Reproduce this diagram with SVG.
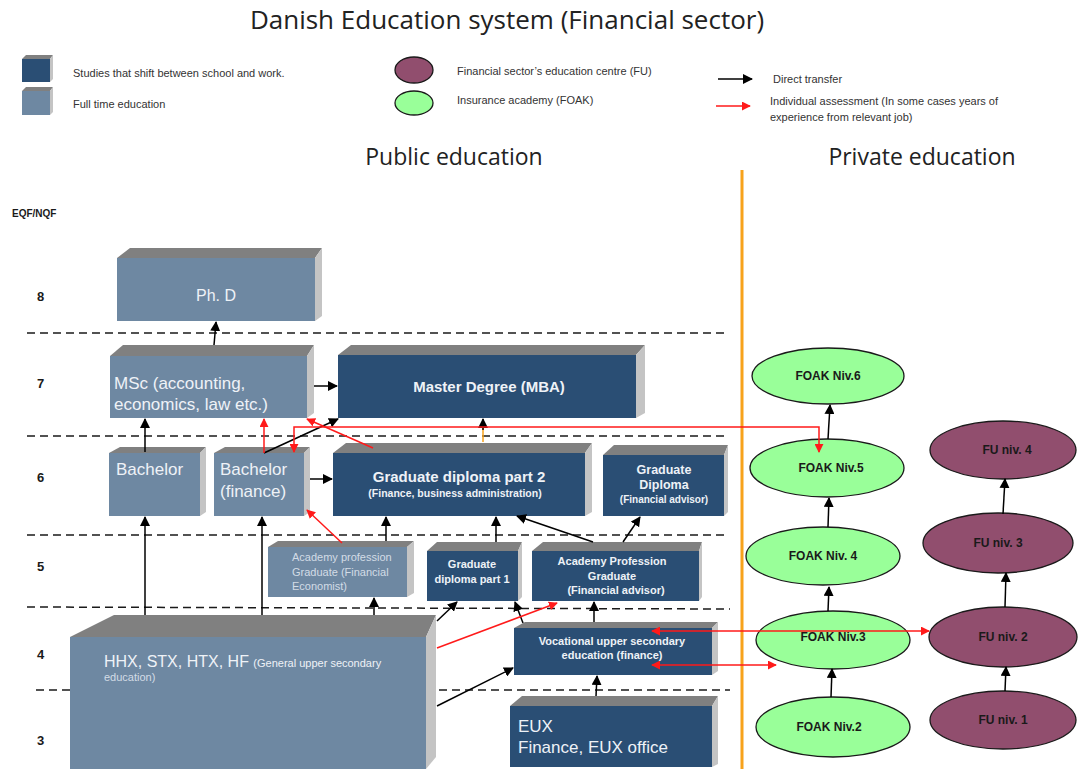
<svg xmlns="http://www.w3.org/2000/svg" width="1078" height="769" viewBox="0 0 1078 769">
<defs>
<marker id="ab" viewBox="0 0 10 10" refX="9" refY="5" markerWidth="10" markerHeight="10" markerUnits="userSpaceOnUse" orient="auto-start-reverse"><path d="M0,0 L10,5 L0,10 z" fill="#000"/></marker>
<marker id="ar" viewBox="0 0 10 10" refX="9" refY="5" markerWidth="9" markerHeight="9" markerUnits="userSpaceOnUse" orient="auto-start-reverse"><path d="M0,0 L10,5 L0,10 z" fill="#FF1A1A"/></marker>
</defs>
<style>
text{font-family:"Liberation Sans",Arial,sans-serif}
.ttl{font-family:"Open Sans","Liberation Sans",sans-serif;fill:#222}
.leg{font-size:11px;fill:#333}
.lvl{font-size:13px;font-weight:bold;fill:#1a1a1a}
.lt{fill:#6E88A2}
.dk{fill:#2A4E74}
.top{fill:#808080}
.side{fill:#C4C4C4}
.wt{fill:#EEF2F7}
.wtb{fill:#EEF2F7;font-weight:bold}
.pale{fill:#D3DCE6}
.dash{stroke:#1a1a1a;stroke-width:1.5;stroke-dasharray:8 5;fill:none}
.bk{stroke:#000;stroke-width:1.5;fill:none;marker-end:url(#ab)}
.rd{stroke:#FF1A1A;stroke-width:1.5;fill:none;marker-end:url(#ar)}
.rd2{stroke:#FF1A1A;stroke-width:1.5;fill:none;marker-end:url(#ar);marker-start:url(#ar)}
.gr{fill:#99FF99;stroke:#1a1a1a;stroke-width:1.3}
.pu{fill:#914E6E;stroke:#1a1a1a;stroke-width:1.3}
.et{font-size:12px;font-weight:bold;fill:#1a1a1a;text-anchor:middle}
</style>
<rect width="1078" height="769" fill="#fff"/>
<text class="ttl" x="507" y="29" font-size="26" text-anchor="middle">Danish Education system (Financial sector)</text>
<g id="legend">
<polygon class="top" points="22,59 26,55 53,55 50,59"/><polygon class="side" points="50,59 53,55 53,79 50,82"/><rect class="dk" x="22" y="59" width="28" height="23"/>
<text class="leg" x="73" y="77">Studies that shift between school and work.</text>
<polygon class="top" points="22,91 26,87 53,87 50,91"/><polygon class="side" points="50,91 53,87 53,112 50,115"/><rect class="lt" x="22" y="91" width="28" height="24"/>
<text class="leg" x="73" y="108">Full time education</text>
<ellipse class="pu" cx="414" cy="70" rx="19" ry="13"/>
<text class="leg" x="457" y="75">Financial sector’s education centre (FU)</text>
<ellipse class="gr" cx="414" cy="103" rx="19" ry="12"/>
<text class="leg" x="457" y="104">Insurance academy (FOAK)</text>
<line class="bk" x1="718" y1="79" x2="752" y2="79"/>
<text class="leg" x="773" y="83">Direct transfer</text>
<line class="rd" x1="716" y1="106" x2="750" y2="106"/>
<text class="leg" x="770" y="105">Individual assessment (In some cases years of</text>
<text class="leg" x="770" y="121">experience from relevant job)</text>
</g>
<text class="ttl" x="454" y="165" font-size="23" text-anchor="middle">Public education</text>
<text class="ttl" x="922" y="165" font-size="23" text-anchor="middle">Private education</text>
<line x1="742" y1="170" x2="742" y2="769" stroke="#F7A21B" stroke-width="3"/>
<text x="12" y="217" font-size="10" font-weight="bold" fill="#1a1a1a">EQF/NQF</text>
<g id="levels">
<text class="lvl" x="37" y="301">8</text>
<text class="lvl" x="37" y="388">7</text>
<text class="lvl" x="37" y="482">6</text>
<text class="lvl" x="37" y="571">5</text>
<text class="lvl" x="37" y="659">4</text>
<text class="lvl" x="37" y="745">3</text>
</g>
<g id="gridlines">
<line class="dash" x1="27" y1="333" x2="726" y2="333"/>
<line class="dash" x1="27" y1="436" x2="726" y2="436"/>
<line class="dash" x1="27" y1="535" x2="726" y2="535"/>
<line class="dash" x1="27" y1="607" x2="730" y2="609"/>
<line class="dash" x1="36" y1="690" x2="730" y2="690"/>
</g>
<g id="phd"><polygon class="top" points="117,258 130,248 322,248 315,258"/><polygon class="side" points="315,258 322,248 322,316 315,321"/><rect class="lt" x="117" y="258" width="198" height="63"/><text class="wt" x="216" y="301" font-size="16" text-anchor="middle">Ph. D</text></g>
<g id="msc"><polygon class="top" points="110,356 123,345 314,345 307,356"/><polygon class="side" points="307,356 314,345 314,413 307,418"/><rect class="lt" x="110" y="356" width="197" height="62"/><text class="wt" x="114" y="389" font-size="17">MSc (accounting,</text><text class="wt" x="114" y="410" font-size="17">economics, law etc.)</text></g>
<g id="mba"><polygon class="top" points="338,355 351,345 645,345 636,355"/><polygon class="side" points="636,355 645,345 645,413 636,418"/><rect class="dk" x="338" y="355" width="298" height="63"/><text class="wtb" x="489" y="392" font-size="15" text-anchor="middle">Master Degree (MBA)</text></g>
<g id="bachelor"><polygon class="top" points="109,453 120,447 206,447 200,453"/><polygon class="side" points="200,453 206,447 206,512 200,516"/><rect class="lt" x="109" y="453" width="91" height="63"/><text class="wt" x="116" y="475" font-size="17">Bachelor</text></g>
<g id="bachelor-fin"><polygon class="top" points="214,453 225,447 310,447 304,453"/><polygon class="side" points="304,453 310,447 310,512 304,516"/><rect class="lt" x="214" y="453" width="90" height="63"/><text class="wt" x="220" y="475" font-size="17">Bachelor</text><text class="wt" x="220" y="497" font-size="17">(finance)</text></g>
<g id="grad-dip-2"><polygon class="top" points="333,453 346,443 592,443 585,453"/><polygon class="side" points="585,453 592,443 592,512 585,516"/><rect class="dk" x="333" y="453" width="252" height="63"/><text class="wtb" x="459" y="482" font-size="15" text-anchor="middle">Graduate diploma part 2</text><text class="wtb" x="455" y="497" font-size="10.5" text-anchor="middle">(Finance, business administration)</text></g>
<g id="grad-diploma-fa"><polygon class="top" points="603,455 614,445 728,445 724,455"/><polygon class="side" points="724,455 728,445 728,512 724,516"/><rect class="dk" x="603" y="455" width="121" height="61"/><text class="wtb" x="664" y="474" font-size="12.5" text-anchor="middle">Graduate</text><text class="wtb" x="664" y="489" font-size="12.5" text-anchor="middle">Diploma</text><text class="wtb" x="664" y="503" font-size="10" text-anchor="middle">(Financial advisor)</text></g>
<g id="ap-fe"><polygon class="top" points="268,547 278,541 414,541 407,547"/><polygon class="side" points="407,547 414,541 414,593 407,597"/><rect class="lt" x="268" y="547" width="139" height="50"/><text class="pale" x="292" y="561" font-size="11">Academy profession</text><text class="pale" x="292" y="576" font-size="11">Graduate (Financial</text><text class="pale" x="292" y="590" font-size="11">Economist)</text></g>
<g id="grad-dip-1"><polygon class="top" points="427,551 437,542 522,542 518,551"/><polygon class="side" points="518,551 522,542 522,597 518,601"/><rect class="dk" x="427" y="551" width="91" height="50"/><text class="wtb" x="472" y="568" font-size="11" text-anchor="middle">Graduate</text><text class="wtb" x="472" y="583" font-size="11" text-anchor="middle">diploma part 1</text></g>
<g id="ap-fa"><polygon class="top" points="532,551 543,542 702,542 699,551"/><polygon class="side" points="699,551 702,542 702,597 699,601"/><rect class="dk" x="532" y="551" width="167" height="50"/><text class="wtb" x="612" y="565" font-size="11" text-anchor="middle">Academy Profession</text><text class="wtb" x="612" y="580" font-size="11" text-anchor="middle">Graduate</text><text class="wtb" x="616" y="594" font-size="11" text-anchor="middle">(Financial advisor)</text></g>
<g id="vocational"><polygon class="top" points="514,628 525,622 718,622 712,628"/><polygon class="side" points="712,628 718,622 718,671 712,675"/><rect class="dk" x="514" y="628" width="198" height="47"/><text class="wtb" x="612" y="645" font-size="11" text-anchor="middle">Vocational upper secondary</text><text class="wtb" x="612" y="659" font-size="11" text-anchor="middle">education (finance)</text></g>
<g id="eux"><polygon class="top" points="510,706 522,696 718,696 712,706"/><polygon class="side" points="712,706 718,696 718,764 712,767"/><rect class="dk" x="510" y="706" width="202" height="61"/><text class="wt" x="518" y="732" font-size="17">EUX</text><text class="wt" x="518" y="753" font-size="17">Finance, EUX office</text></g>
<g id="hhx"><polygon class="top" points="70,637 114,615 436,615 426,637"/><polygon class="side" points="426,637 436,615 436,757 426,769"/><rect class="lt" x="70" y="637" width="356" height="132"/><text class="wt" x="104" y="667" font-size="16">HHX, STX, HTX, HF <tspan font-size="11">(General upper secondary</tspan></text><text class="pale" x="104" y="681" font-size="11">education)</text></g>
<g id="foak6"><ellipse class="gr" cx="828" cy="376" rx="76" ry="28"/><text class="et" x="828" y="380">FOAK Niv.6</text></g>
<g id="foak5"><ellipse class="gr" cx="827" cy="468" rx="77" ry="29"/><text class="et" x="831" y="472">FOAK Niv.5</text></g>
<g id="foak4"><ellipse class="gr" cx="823" cy="556" rx="77" ry="29"/><text class="et" x="823" y="560">FOAK Niv. 4</text></g>
<g id="foak3"><ellipse class="gr" cx="833" cy="640" rx="77" ry="29"/><text class="et" x="833" y="641">FOAK Niv.3</text></g>
<g id="foak2"><ellipse class="gr" cx="833" cy="727" rx="77" ry="30"/><text class="et" x="829" y="731">FOAK Niv.2</text></g>
<g id="fu4"><ellipse class="pu" cx="1003" cy="450" rx="73" ry="29"/><text class="et" x="1007" y="454">FU niv. 4</text></g>
<g id="fu3"><ellipse class="pu" cx="998" cy="543" rx="75" ry="30"/><text class="et" x="998" y="547">FU niv. 3</text></g>
<g id="fu2"><ellipse class="pu" cx="1003" cy="637" rx="74" ry="30"/><text class="et" x="1003" y="641">FU niv. 2</text></g>
<g id="fu1"><ellipse class="pu" cx="1003" cy="720" rx="73" ry="29"/><text class="et" x="1003" y="724">FU niv. 1</text></g>
<g id="connectors">
<line class="bk" x1="214" y1="345" x2="216" y2="322"/>
<line class="bk" x1="314" y1="386" x2="337" y2="386"/>
<line class="bk" x1="145" y1="452" x2="145" y2="419"/>
<line class="bk" x1="264" y1="453" x2="338" y2="419"/>
<line class="bk" x1="310" y1="479" x2="332" y2="479"/>
<line class="bk" x1="145" y1="615" x2="145" y2="517"/>
<line class="bk" x1="262" y1="615" x2="262" y2="517"/>
<line class="bk" x1="374" y1="615" x2="374" y2="598"/>
<line class="bk" x1="386" y1="541" x2="386" y2="517"/>
<line class="bk" x1="496" y1="542" x2="496" y2="517"/>
<line class="bk" x1="593" y1="542" x2="517" y2="516"/>
<line class="bk" x1="623" y1="542" x2="640" y2="517"/>
<line class="bk" x1="437" y1="621" x2="457" y2="602"/>
<line class="bk" x1="523" y1="623" x2="515" y2="602"/>
<line class="bk" x1="594" y1="622" x2="594" y2="602"/>
<line class="bk" x1="437" y1="706" x2="513" y2="668"/>
<line class="bk" x1="596" y1="696" x2="597" y2="676"/>
<line x1="483" y1="442" x2="483" y2="428" stroke="#F7A21B" stroke-width="1.5"/>
<line class="bk" x1="483" y1="430" x2="483" y2="419"/>
<line class="bk" x1="831" y1="697" x2="832" y2="669"/>
<line class="bk" x1="828" y1="611" x2="829" y2="587"/>
<line class="bk" x1="828" y1="527" x2="829" y2="498"/>
<line class="bk" x1="828" y1="439" x2="830" y2="405"/>
<line class="bk" x1="1005" y1="691" x2="1006" y2="667"/>
<line class="bk" x1="1005" y1="607" x2="1006" y2="573"/>
<line class="bk" x1="1003" y1="514" x2="1005" y2="479"/>
<line class="rd" x1="264" y1="453" x2="264" y2="419"/>
<line class="rd" x1="373" y1="448" x2="307" y2="419"/>
<line class="rd" x1="342" y1="543" x2="307" y2="510"/>
<line class="rd" x1="437" y1="648" x2="557" y2="603"/>
<polyline class="rd2" points="294,452 294,427 819,427 819,452"/>
<line class="rd2" x1="652" y1="631" x2="929" y2="631"/>
<line class="rd2" x1="652" y1="665" x2="776" y2="665"/>
</g>
</svg>
